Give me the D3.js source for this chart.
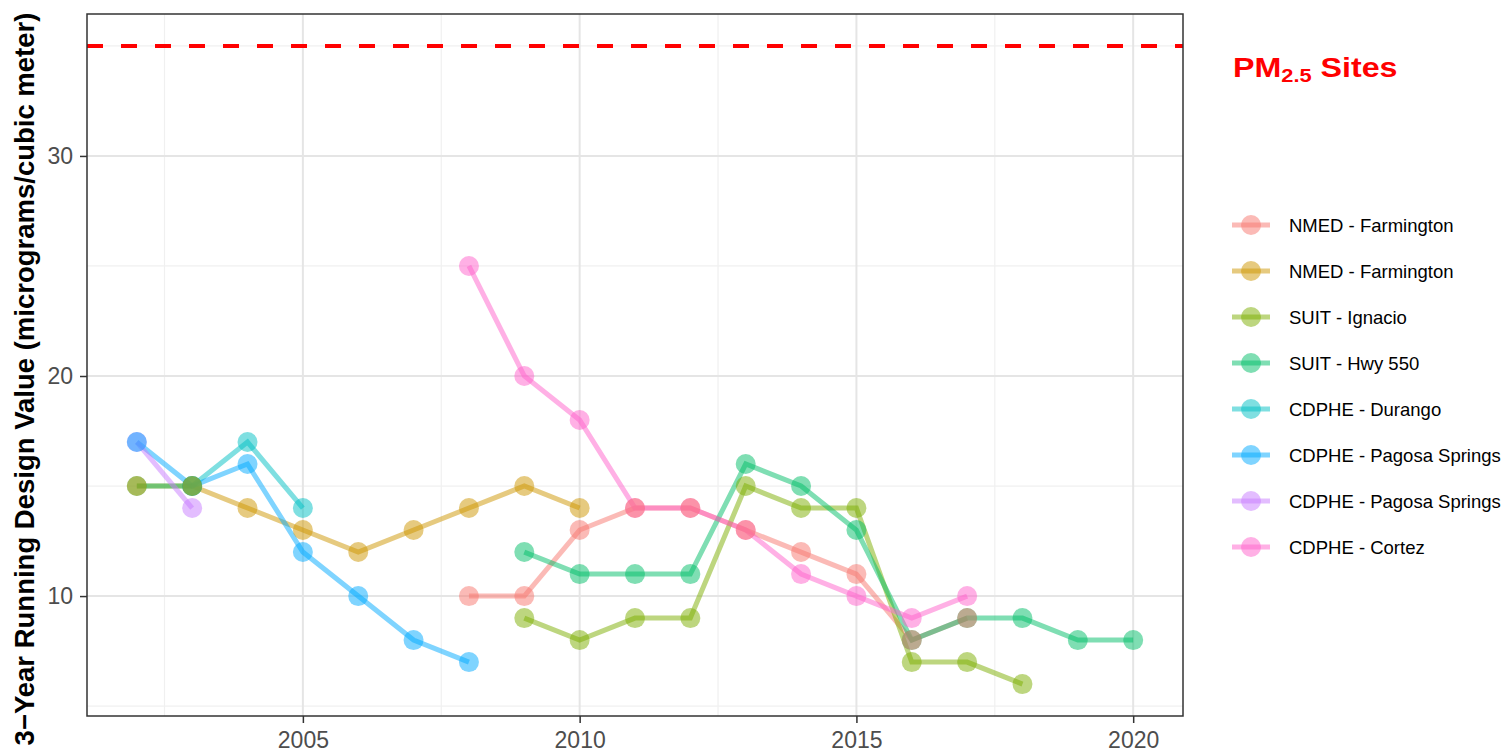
<!DOCTYPE html>
<html lang="en">
<head>
    <meta charset="UTF-8">
    <title>PM2.5 Sites - 3-Year Running Design Value</title>
    <script src="https://d3js.org/d3.v7.min.js"></script>
    <style>
        body { margin: 0; background: #fff; }
        text { font-family: "Liberation Sans", Arial, sans-serif; }
    </style>
</head>
<body>
    <svg width="1506" height="753"></svg>

    <script>
        // Data, null = no value that year
        const years = d3.range(2002, 2021);
        const siteNames = [
            "NMED - Farmington", "NMED - Farmington", "SUIT - Ignacio", "SUIT - Hwy 550",
            "CDPHE - Durango", "CDPHE - Pagosa Springs", "CDPHE - Pagosa Springs", "CDPHE - Cortez"
        ];
        const colors = ["#F8766D", "#CD9600", "#7CAE00", "#00BE67", "#00BFC4", "#00A9FF", "#C77CFF", "#FF61CC"];
        //                        2002 2003 2004 2005 2006 2007 2008 2009 2010 2011 2012 2013 2014 2015 2016 2017 2018 2019 2020
        const nmedFarmington1 = [null,null,null,null,null,null,  10,  10,  13,  14,  14,  13,  12,  11,   8,   9,null,null,null];
        const nmedFarmington2 = [  15,  15,  14,  13,  12,  13,  14,  15,  14,null,null,null,null,null,null,null,null,null,null];
        const suitIgnacio     = [null,null,null,null,null,null,null,   9,   8,   9,   9,  15,  14,  14,   7,   7,   6,null,null];
        const suitHwy550      = [  15,  15,null,null,null,null,null,  12,  11,  11,  11,  16,  15,  13,   8,   9,   9,   8,   8];
        const cdpheDurango    = [null,  15,  17,  14,null,null,null,null,null,null,null,null,null,null,null,null,null,null,null];
        const cdphePagosa1    = [  17,  15,  16,  12,  10,   8,   7,null,null,null,null,null,null,null,null,null,null,null,null];
        const cdphePagosa2    = [  17,  14,null,null,null,null,null,null,null,null,null,null,null,null,null,null,null,null,null];
        const cdpheCortez     = [null,null,null,null,null,null,  25,  20,  18,  14,  14,  13,  11,  10,   9,  10,null,null,null];
        const seriesValues = [nmedFarmington1, nmedFarmington2, suitIgnacio, suitHwy550,
                              cdpheDurango, cdphePagosa1, cdphePagosa2, cdpheCortez];
        const standard = 35;
        const xTicks = [2005, 2010, 2015, 2020];
        const yTicks = [10, 20, 30];
        const xMinor = [2002.5, 2007.5, 2012.5, 2017.5];
        const yMinor = [5, 15, 25, 35];

        const series = seriesValues.map((vals, i) => ({
            name: siteNames[i],
            color: colors[i],
            values: years.map((y, j) => ({ year: y, value: vals[j] }))
        }));

        // Panel
        const panel = { left: 87, top: 14, right: 1183, bottom: 716 };
        const svg = d3.select("svg");

        // ggplot-like 5% expansion
        const allVals = seriesValues.flat().filter(v => v != null).concat([standard]);
        const yMin = d3.min(allVals), yMax = d3.max(allVals);
        const xPad = (2020 - 2002) * 0.05, yPad = (yMax - yMin) * 0.05;

        const x = d3.scaleLinear().domain([2002 - xPad, 2020 + xPad]).range([panel.left, panel.right]);
        const y = d3.scaleLinear().domain([yMin - yPad, yMax + yPad]).range([panel.bottom, panel.top]);

        const grid = svg.append("g");
        // minor grid
        xMinor.forEach(v => grid.append("line")
            .attr("x1", x(v)).attr("x2", x(v)).attr("y1", panel.top).attr("y2", panel.bottom)
            .attr("stroke", "#f0f0f0").attr("stroke-width", 1.2));
        yMinor.forEach(v => grid.append("line")
            .attr("x1", panel.left).attr("x2", panel.right).attr("y1", y(v)).attr("y2", y(v))
            .attr("stroke", "#f0f0f0").attr("stroke-width", 1.2));
        // major grid
        xTicks.forEach(v => grid.append("line")
            .attr("x1", x(v)).attr("x2", x(v)).attr("y1", panel.top).attr("y2", panel.bottom)
            .attr("stroke", "#e5e5e5").attr("stroke-width", 2));
        yTicks.forEach(v => grid.append("line")
            .attr("x1", panel.left).attr("x2", panel.right).attr("y1", y(v)).attr("y2", y(v))
            .attr("stroke", "#e5e5e5").attr("stroke-width", 2));

        // standard line
        svg.append("line")
            .attr("x1", panel.left).attr("x2", panel.right)
            .attr("y1", y(standard)).attr("y2", y(standard))
            .attr("stroke", "red").attr("stroke-width", 4)
            .attr("stroke-dasharray", "16,18");

        const line = d3.line()
            .defined(d => d.value != null)
            .x(d => x(d.year))
            .y(d => y(d.value));

        // lines first, then points
        svg.append("g").selectAll("path")
            .data(series)
            .join("path")
            .attr("d", d => line(d.values))
            .attr("fill", "none")
            .attr("stroke", d => d.color)
            .attr("stroke-opacity", 0.5)
            .attr("stroke-width", 5);

        const pts = svg.append("g");
        series.slice().reverse().forEach(s => {
            pts.selectAll(null)
                .data(s.values.filter(d => d.value != null))
                .join("circle")
                .attr("cx", d => x(d.year))
                .attr("cy", d => y(d.value))
                .attr("r", 10)
                .attr("fill", s.color)
                .attr("fill-opacity", 0.5);
        });

        // panel border
        svg.append("rect")
            .attr("x", panel.left).attr("y", panel.top)
            .attr("width", panel.right - panel.left).attr("height", panel.bottom - panel.top)
            .attr("fill", "none").attr("stroke", "#333").attr("stroke-width", 1.5);

        // axes
        const xAxis = svg.append("g")
            .attr("transform", `translate(0,${panel.bottom})`)
            .call(d3.axisBottom(x).tickValues(xTicks).tickFormat(d3.format("d")).tickSize(7).tickPadding(9));
        const yAxis = svg.append("g")
            .attr("transform", `translate(${panel.left},0)`)
            .call(d3.axisLeft(y).tickValues(yTicks).tickSize(7).tickPadding(7));
        [xAxis, yAxis].forEach(a => {
            a.select(".domain").remove();
            a.selectAll(".tick line").attr("stroke", "#333").attr("stroke-width", 1.5);
            a.selectAll(".tick text").attr("fill", "#4d4d4d").style("font-size", "23px")
                .style("font-family", "'Liberation Sans', Arial, sans-serif");
        });
        xAxis.selectAll(".tick text").attr("dy", "0.71em");

        // y title
        svg.append("text")
            .attr("transform", `translate(34,${(panel.top + panel.bottom) / 2 + 14}) rotate(-90)`)
            .attr("text-anchor", "middle")
            .style("font-size", "27.5px")
            .style("font-weight", "bold")
            .text("3\u2212Year Running Design Value (micrograms/cubic meter)");

        // legend title (slightly wide bold face in the reference)
        const title = svg.append("text")
            .attr("transform", "translate(1233,77) scale(1.15,1)")
            .attr("fill", "red")
            .style("font-size", "28px")
            .style("font-weight", "bold");
        title.append("tspan").text("PM");
        title.append("tspan").text("2.5").attr("dy", 5).style("font-size", "19px");
        title.append("tspan").text(" Sites").attr("dy", -5);

        // legend
        const legend = svg.append("g");
        series.forEach((s, i) => {
            const ly = 225 + i * 46;
            legend.append("line")
                .attr("x1", 1232).attr("x2", 1270).attr("y1", ly).attr("y2", ly)
                .attr("stroke", s.color).attr("stroke-opacity", 0.5).attr("stroke-width", 5);
            legend.append("circle")
                .attr("cx", 1251).attr("cy", ly).attr("r", 10)
                .attr("fill", s.color).attr("fill-opacity", 0.5);
            legend.append("text")
                .attr("x", 1289).attr("y", ly + 6.5)
                .style("font-size", "18.5px")
                .text(s.name);
        });
    </script>
</body>
</html>
